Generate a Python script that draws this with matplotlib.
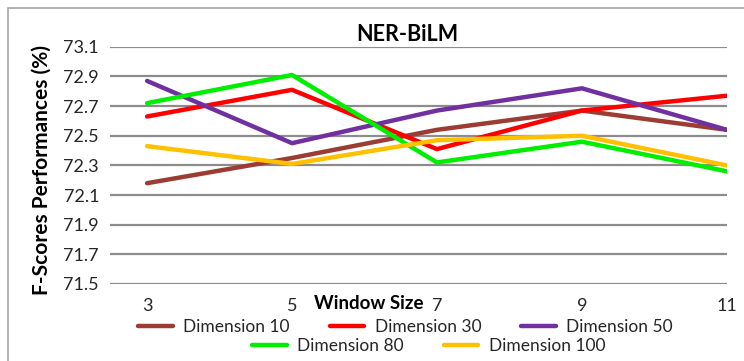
import matplotlib.pyplot as plt
from matplotlib.patches import Rectangle

plt.rcParams['font.family'] = ['Lato', 'DejaVu Sans']

window = [3, 5, 7, 9, 11]
dim10 = [72.18, 72.35, 72.54, 72.67, 72.54]
dim30 = [72.63, 72.81, 72.41, 72.67, 72.77]
dim50 = [72.87, 72.45, 72.67, 72.82, 72.54]
dim80 = [72.72, 72.91, 72.32, 72.46, 72.26]
dim100 = [72.43, 72.31, 72.47, 72.50, 72.30]
yticks = [71.5, 71.7, 71.9, 72.1, 72.3, 72.5, 72.7, 72.9, 73.1]

series = [
    ('Dimension 10', dim10, '#9c3c34'),
    ('Dimension 30', dim30, '#ff0000'),
    ('Dimension 50', dim50, '#7030a0'),
    ('Dimension 80', dim80, '#00ee00'),
    ('Dimension 100', dim100, '#ffc000'),
]

fig = plt.figure(figsize=(7.44, 3.61), dpi=100)
ax = fig.add_axes([0.148, 0.2133, 0.829, 0.657])

# outer chart border
fig.patches.append(Rectangle((8 / 744, -0.1), 1.2, 1 - 8 / 361 + 0.1,
                             transform=fig.transFigure, fill=False,
                             edgecolor='#a6a6a6', linewidth=1.2))

for y in yticks:
    ax.axhline(y, color='#8c8c8c', linewidth=1.6, zorder=1)

handles = {}
for name, vals, col in series:
    h, = ax.plot(window, vals, color=col, linewidth=3.2, solid_capstyle='round', zorder=3)
    handles[name] = h

ax.set_xlim(2.49, 11)
ax.set_ylim(71.5, 73.1)
ax.set_xticks(window)
ax.set_yticks(yticks)
ax.set_yticklabels([f'{v:.1f}' for v in yticks])
ax.tick_params(length=0, labelsize=13, colors='#262626', pad=8)
ax.tick_params(axis='x', pad=10)
for s in ax.spines.values():
    s.set_visible(False)

fig.text(0.548, 0.905, 'NER-BiLM', fontsize=15.5, fontweight='bold', ha='center', va='center')
fig.text(0.056, 0.529, 'F-Scores Performances (%)', fontsize=15, fontweight='bold',
         rotation=90, ha='center', va='center')
fig.text(0.496, 0.16, 'Window Size', fontsize=13.5, fontweight='bold', ha='center', va='center')

row1 = ['Dimension 10', 'Dimension 30', 'Dimension 50']
row2 = ['Dimension 80', 'Dimension 100']
common = dict(frameon=False, fontsize=12.5, handlelength=2.0, handletextpad=0.6,
              columnspacing=2.3, borderpad=0, labelcolor='#262626')
leg1 = fig.legend([handles[n] for n in row1], row1, ncol=3, loc='center',
                  bbox_to_anchor=(0.545, 0.094), **common)
leg2 = fig.legend([handles[n] for n in row2], row2, ncol=2, loc='center',
                  bbox_to_anchor=(0.576, 0.041), **common)

fig.savefig('out.png', dpi=100)
